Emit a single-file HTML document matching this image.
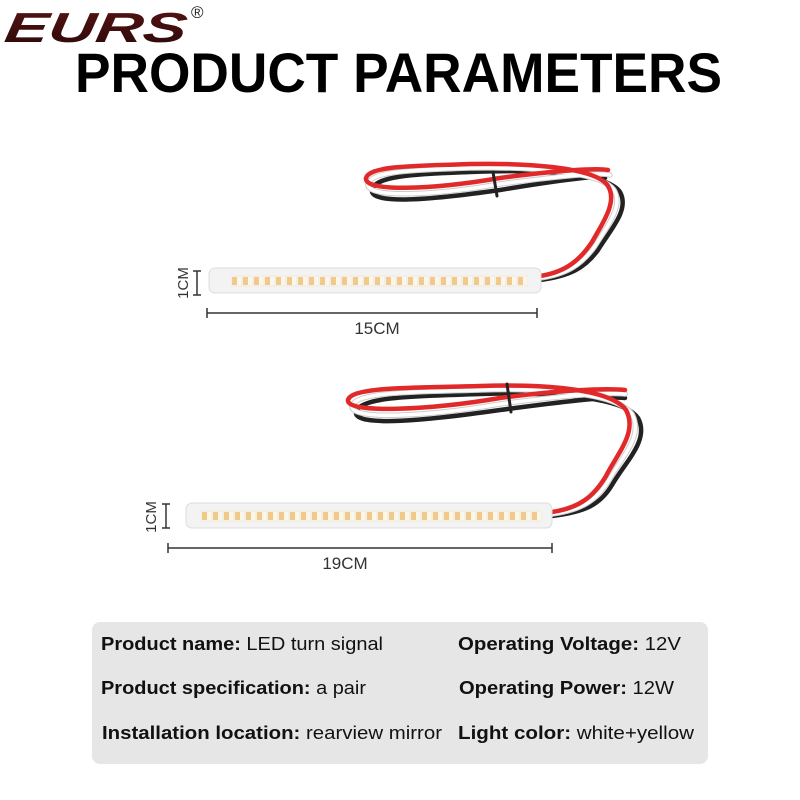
<!DOCTYPE html>
<html><head><meta charset="utf-8"><style>
html,body{margin:0;padding:0;background:#fff}
svg{display:block}
</style></head><body>
<svg width="800" height="800" viewBox="0 0 800 800" xmlns="http://www.w3.org/2000/svg">
<defs>
<linearGradient id="lg" x1="0" y1="0" x2="0" y2="1"><stop offset="0" stop-color="#5a1414"/><stop offset="1" stop-color="#2a0808"/></linearGradient>
<pattern id="leds1" x="231" y="275" width="11" height="12" patternUnits="userSpaceOnUse">
<rect x="0" y="0" width="11" height="12" fill="#f4efe6"/>
<rect x="1" y="2" width="5" height="8" fill="#f1c98a"/>
<rect x="6" y="2" width="4" height="8" fill="#fbf6ea"/>
</pattern>
<pattern id="leds2" x="201" y="510" width="11" height="12" patternUnits="userSpaceOnUse">
<rect x="0" y="0" width="11" height="12" fill="#f4efe6"/>
<rect x="1" y="2" width="5" height="8" fill="#f1c98a"/>
<rect x="6" y="2" width="4" height="8" fill="#fbf6ea"/>
</pattern>
</defs>
<text x="4" y="42" font-family="Liberation Sans, sans-serif" font-weight="bold" font-style="italic" font-size="42" fill="url(#lg)" textLength="182" lengthAdjust="spacingAndGlyphs" transform="skewX(-8) translate(5,0)">EURS</text>
<text x="191" y="18" font-family="Liberation Sans, sans-serif" font-size="17" fill="#222">®</text>
<text x="75" y="92" font-family="Liberation Sans, sans-serif" font-weight="bold" font-size="56" fill="#000" textLength="647" lengthAdjust="spacingAndGlyphs">PRODUCT PARAMETERS</text>

<!-- wires 1 -->
<g fill="none" stroke-linecap="round">
<path d="M540 280 C570 276 585 268 598 250 C610 230 630 210 620 192 C605 170 520 170 470 172 C420 174 375 175 372 190 C370 205 430 200 500 190 C560 180 600 175 605 178" stroke="#222" stroke-width="4.5"/>
<path d="M540 278 C568 274 582 264 595 246 C606 228 624 206 614 190 C600 170 520 167 470 168 C420 170 372 170 368 184 C366 198 430 196 500 184 C560 176 600 172 610 175" stroke="#ccc" stroke-width="5.5"/>
<path d="M540 278 C568 274 582 264 595 246 C606 228 624 206 614 190 C600 170 520 167 470 168 C420 170 372 170 368 184 C366 198 430 196 500 184 C560 176 600 172 610 175" stroke="#fff" stroke-width="3.5"/>
<path d="M540 276 C566 272 580 260 592 242 C602 224 618 202 608 186 C595 166 520 163 470 164 C420 166 370 165 366 178 C364 192 430 190 500 178 C560 170 598 168 608 170" stroke="#e2292a" stroke-width="4.5"/>
<path d="M493 172 L497 196" stroke="#222" stroke-width="3"/>
</g>
<!-- strip 1 -->
<rect x="209" y="268" width="332" height="25" rx="6" fill="#f3f3f3" stroke="#ddd"/>
<rect x="231" y="275" width="297" height="12" fill="url(#leds1)"/>
<line x1="197" y1="271" x2="197" y2="295" stroke="#333" stroke-width="1.5"/>
<line x1="193" y1="271" x2="201" y2="271" stroke="#333" stroke-width="1.5"/>
<line x1="193" y1="295" x2="201" y2="295" stroke="#333" stroke-width="1.5"/>
<text transform="translate(188,283) rotate(-90)" text-anchor="middle" font-family="Liberation Sans, sans-serif" font-size="15" fill="#333">1CM</text>
<line x1="207" y1="313" x2="537" y2="313" stroke="#333" stroke-width="1.5"/>
<line x1="207" y1="308" x2="207" y2="318" stroke="#333" stroke-width="1.5"/>
<line x1="537" y1="308" x2="537" y2="318" stroke="#333" stroke-width="1.5"/>
<text x="377" y="334" text-anchor="middle" font-family="Liberation Sans, sans-serif" font-size="17" fill="#333">15CM</text>

<!-- wires 2 -->
<g fill="none" stroke-linecap="round">
<path d="M552 516 C585 512 600 505 612 485 C625 462 650 440 638 418 C622 395 540 392 480 394 C420 396 360 396 356 412 C354 428 430 420 500 410 C560 402 610 396 625 398" stroke="#222" stroke-width="4.5"/>
<path d="M552 514 C582 510 597 500 609 480 C621 458 644 436 632 414 C616 392 540 388 480 390 C420 392 356 391 352 406 C350 421 430 416 500 404 C560 396 608 392 625 394" stroke="#ccc" stroke-width="5.5"/>
<path d="M552 514 C582 510 597 500 609 480 C621 458 644 436 632 414 C616 392 540 388 480 390 C420 392 356 391 352 406 C350 421 430 416 500 404 C560 396 608 392 625 394" stroke="#fff" stroke-width="3.5"/>
<path d="M552 512 C580 508 594 496 606 476 C617 454 638 432 626 410 C610 388 540 384 480 386 C420 388 352 386 348 400 C346 414 430 410 500 398 C560 390 606 388 625 390" stroke="#e2292a" stroke-width="4.5"/>
<path d="M507 384 L511 412" stroke="#222" stroke-width="3"/>
</g>
<!-- strip 2 -->
<rect x="186" y="503" width="366" height="25" rx="6" fill="#f3f3f3" stroke="#ddd"/>
<rect x="201" y="510" width="341" height="12" fill="url(#leds2)"/>
<line x1="166" y1="504" x2="166" y2="528" stroke="#333" stroke-width="1.5"/>
<line x1="162" y1="504" x2="170" y2="504" stroke="#333" stroke-width="1.5"/>
<line x1="162" y1="528" x2="170" y2="528" stroke="#333" stroke-width="1.5"/>
<text transform="translate(156,517) rotate(-90)" text-anchor="middle" font-family="Liberation Sans, sans-serif" font-size="15" fill="#333">1CM</text>
<line x1="168" y1="548" x2="552" y2="548" stroke="#333" stroke-width="1.5"/>
<line x1="168" y1="543" x2="168" y2="553" stroke="#333" stroke-width="1.5"/>
<line x1="552" y1="543" x2="552" y2="553" stroke="#333" stroke-width="1.5"/>
<text x="345" y="569" text-anchor="middle" font-family="Liberation Sans, sans-serif" font-size="17" fill="#333">19CM</text>

<!-- table -->
<rect x="92" y="622" width="616" height="142" rx="8" fill="#e6e6e6"/>
<g font-family="Liberation Sans, sans-serif" font-size="18.5" fill="#111" lengthAdjust="spacingAndGlyphs">
<text x="101" y="650" textLength="282" lengthAdjust="spacingAndGlyphs"><tspan font-weight="bold">Product name:</tspan> LED turn signal</text>
<text x="101" y="694" textLength="265" lengthAdjust="spacingAndGlyphs"><tspan font-weight="bold">Product specification:</tspan> a pair</text>
<text x="102" y="739" textLength="340" lengthAdjust="spacingAndGlyphs"><tspan font-weight="bold">Installation location:</tspan> rearview mirror</text>
<text x="458" y="650" textLength="223" lengthAdjust="spacingAndGlyphs"><tspan font-weight="bold">Operating Voltage:</tspan> 12V</text>
<text x="459" y="694" textLength="215" lengthAdjust="spacingAndGlyphs"><tspan font-weight="bold">Operating Power:</tspan> 12W</text>
<text x="458" y="739" textLength="236" lengthAdjust="spacingAndGlyphs"><tspan font-weight="bold">Light color:</tspan> white+yellow</text>
</g>
</svg>
</body></html>
